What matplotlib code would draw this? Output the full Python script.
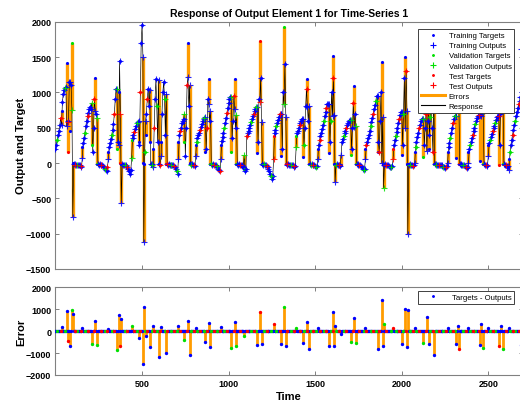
import matplotlib
matplotlib.use('Agg')
import matplotlib.pyplot as plt
from matplotlib.lines import Line2D
import numpy as np

plt.rcParams['font.family'] = ['Liberation Sans', 'DejaVu Sans']

# Time-series targets, one block per cycle (sample spacing 5 time steps)
block_start = [0, 155, 305, 440, 510, 555, 600, 710, 810, 955, 1105, 1260, 1390,
               1515, 1655, 1790, 1950, 2075, 2265, 2385, 2500, 2620]
block_values = [
    [200, 260, 330, 390, 460, 540, 640, 740, 860, 980, 1040, 1060, 1080, 1420, 150, 600, 1150, 450, 1100, 1700, 0,
     -20, -25, -20, -25, -30, -30, -25, -30, -40, -60],
    [220, 290, 360, 430, 520, 600, 660, 710, 760, 790, 760, 250, 150, 500, 900, 1210, 700, -10,
     -20, -25, -20, -25, -30, -30, -40, -60, -80, -100, -110, -60],
    [150, 220, 280, 340, 400, 470, 550, 700, 900, 1050, 200, 300, 1000, 1450, 0,
     -20, -20, -25, -25, -30, -30, -40, -60, -90, -120, -150, -100],
    [320, 360, 400, 440, 480, 520, 560, 580, 300, 250, 1000, 1700, 1960, 0],
    [-20, 150, 400, 700, 900, 1050, 800, 300, -20],
    [-30, -20, 200, 500, 900, 1190, 800, 300, -20],
    [-20, -30, 300, 700, 1000, 1150, 900, 400, -20,
     -20, -25, -20, -25, -30, -30, -25, -30, -40, -50, -80, -120, -150],
    [300, 390, 450, 500, 560, 600, 620, 300, 100, 500, 1100, 1700, 800, 0,
     -20, -25, -20, -30, -30, -40],
    [250, 300, 350, 390, 430, 470, 510, 550, 590, 620, 640, 150, 200, 500, 900, 1190, 600, -10,
     -20, -25, -20, -25, -30, -30, -40, -60, -80, -100, -110],
    [250, 310, 370, 430, 500, 570, 640, 710, 780, 850, 900, 930, 150, 350, 600, 950, 1190, 500, -10,
     -20, -25, -20, -25, -30, -30, -40, -60, -90, -110, -80],
    [380, 420, 460, 500, 540, 580, 620, 660, 700, 740, 770, 790, 140, 300, 900, 1730, 1200, -10,
     -20, -25, -20, -30, -30, -40, -60, -90, -120, -150, -190, -220, -180],
    [380, 420, 470, 520, 570, 610, 650, 690, 700, 100, 200, 1000, 1920, 1400, -10,
     -20, -25, -20, -25, -30, -30, -25, -30, -40, -50, -40],
    [380, 420, 460, 500, 540, 570, 600, 620, 80, 250, 500, 800, 1050, 1190, 600, -10,
     -20, -25, -20, -25, -30, -30, -40, -50, -40],
    [200, 260, 320, 380, 430, 480, 540, 600, 660, 720, 780, 830, 840, 140, 300, 600, 1000, 1520, 1200, -10,
     -20, -25, -20, -25, -30, -30, -40, -30],
    [300, 340, 380, 420, 460, 500, 540, 570, 600, 610, 110, 200, 500, 850, 1095, 700, -10,
     -20, -25, -20, -25, -30, -40, -60, -80, -100, -80],
    [200, 250, 300, 350, 400, 460, 520, 580, 640, 700, 760, 820, 880, 950, 150, 300, 150, 600, 1000, 1425, -10,
     -20, -25, -20, -25, -30, -30, -40, -50, -60, -60, -40],
    [200, 260, 320, 380, 440, 500, 560, 620, 680, 720, 120, 250, 700, 1200, 1500, 1300, -10,
     -20, -25, -20, -25, -30, -30, -40, -30],
    [150, 230, 300, 370, 430, 490, 540, 590, 620, 630, 90, 250, 500, 700, 800, 600, 200, 400, 650, 750, 500, 150, -10,
     -20, -25, -20, -25, -30, -30, -25, -30, -30, -40, -50, -60, -70, -60, -40],
    [150, 220, 290, 360, 430, 500, 560, 620, 660, 670, 70, 800, 1000, -10,
     -20, -25, -20, -25, -30, -30, -40, -60, -70, -50],
    [150, 200, 250, 300, 350, 400, 450, 500, 550, 600, 640, 670, 680, 30, 700, 1000, 800, -10,
     -20, -25, -30, -40, -30],
    [250, 290, 330, 370, 410, 450, 490, 530, 570, 610, 650, 670, -30, 250, 700, 1100, 800, -10,
     -20, -25, -30, -40, -60, -40],
    [50, 150, 250, 330, 400, 470, 540, 600, 660, 720, 780, 830, 880, 930, 970, 1000],
]

# Larger errors (targets - outputs); everywhere else the response follows the target
err_time = [35, 65, 70, 85, 95, 100, 155, 210, 230, 240, 305, 355, 365, 375, 380,
            440, 480, 505, 510, 520, 545, 565, 595, 610, 640,
            710, 745, 765, 775, 810, 865, 885, 895, 955, 1015, 1035, 1045,
            1090, 1165, 1180, 1190, 1260, 1305, 1320, 1330, 1390, 1430, 1455, 1465,
            1515, 1580, 1600, 1610, 1615, 1650, 1705, 1725, 1735,
            1790, 1860, 1885, 1890, 1895, 1950, 2000, 2020, 2030, 2035,
            2075, 2125, 2145, 2155, 2185, 2265, 2315, 2325, 2330,
            2385, 2450, 2460, 2470, 2500, 2560, 2575, 2585, 2620, 2690]
err_value = [200, 900, -430, -700, 950, 760, 150, -600, 480, -650, 100, -850, 750, -690, 550,
             250, -300, -1500, 1100, -200, -730, 250, -1190, 200, -1000,
             250, -400, 480, -1100, 150, -500, 360, -740, 200, -780, 430, -690,
             -200, -650, 860, -585, 330, -600, 1090, -660, 150, -540, 400, -810,
             150, -700, 860, -690, 250, -150, -500, 585, -540,
             150, -800, 1420, -660, 330, 150, -600, 1010, -740, 985,
             150, -540, 630, -600, -1070, 150, -600, 250, -810,
             150, -650, 330, -750, 150, -700, 250, -810, 150, -650]

# data division: T = training, V = validation, E = test
split_pattern = "TTVTTTETTTTVTTETTTTVTTE"

x_ticks = [500, 1000, 1500, 2000, 2500]
y_ticks_top = [-1500, -1000, -500, 0, 500, 1000, 1500, 2000]
y_ticks_err = [-2000, -1000, 0, 1000, 2000]

# ---- assemble series
t = np.concatenate([s + 5 * np.arange(len(v)) for s, v in zip(block_start, block_values)])
target = np.concatenate([np.array(v, dtype=float) for v in block_values])
error = np.zeros_like(target)
for et, ev in zip(err_time, err_value):
    error[np.argmin(np.abs(t - et))] = ev
output = target - error
labels = np.array([split_pattern[i % len(split_pattern)] for i in range(len(t))])

colors = {'T': '#0000ff', 'V': '#00e000', 'E': '#ff0000'}
orange = '#ff9c00'
spine_col = '#808080'

fig = plt.figure(figsize=(5.2, 4.02), dpi=100)
fig.patch.set_facecolor('white')
ax = fig.add_axes([0.1067, 0.3284, 0.899, 0.6151])
ax2 = fig.add_axes([0.1067, 0.0647, 0.899, 0.2182])

# Top: response
ax.vlines(t, target, output, colors=orange, linewidth=2.4, zorder=1)
ax.plot(t, output, color='black', linewidth=0.45, zorder=2)
for key in ['T', 'V', 'E']:
    m = labels == key
    ax.plot(t[m], target[m], '.', color=colors[key], markersize=2.5, zorder=3)
    ax.plot(t[m], output[m], '+', color=colors[key], markersize=4.8, markeredgewidth=0.8,
            alpha=0.85, zorder=4)

# Bottom: errors
ax2.vlines(t, 0, error, colors=orange, linewidth=2.0, zorder=1)
for key in ['T', 'V', 'E']:
    m = labels == key
    ax2.plot(t[m], error[m], '.', color=colors[key], markersize=2.8, zorder=3)

for a in (ax, ax2):
    a.set_xlim(0, 2700)
    a.set_xticks(x_ticks)
    for s in a.spines.values():
        s.set_color(spine_col)
        s.set_linewidth(0.8)
    a.tick_params(direction='in', length=3, width=0.7, color=spine_col, top=True, right=True,
                  labelsize=6.5, pad=3)
    for lbl in a.get_xticklabels() + a.get_yticklabels():
        lbl.set_fontweight('bold')

ax.set_ylim(-1500, 2000)
ax.set_yticks(y_ticks_top)
ax.tick_params(labelbottom=False)
ax2.set_ylim(-2000, 2000)
ax2.set_yticks(y_ticks_err)

ax.set_title('Response of Output Element 1 for Time-Series 1', fontsize=7.5, fontweight='bold', pad=4)
ax.set_ylabel('Output and Target', fontsize=8, fontweight='bold', labelpad=0)
ax2.set_ylabel('Error', fontsize=8, fontweight='bold', labelpad=0)
ax2.set_xlabel('Time', fontsize=8, fontweight='bold', labelpad=2)


def marker_handle(key, marker, size):
    return Line2D([], [], linestyle='none', marker=marker, markersize=size, markeredgewidth=0.8,
                  markerfacecolor=colors[key], markeredgecolor=colors[key])


handles = [
    marker_handle('T', '.', 2.5), marker_handle('T', '+', 5),
    marker_handle('V', '.', 2.5), marker_handle('V', '+', 5),
    marker_handle('E', '.', 2.5), marker_handle('E', '+', 5),
    Line2D([], [], color=orange, linewidth=2.2),
    Line2D([], [], color='black', linewidth=0.8),
]
names = ['Training Targets', 'Training Outputs', 'Validation Targets', 'Validation Outputs',
         'Test Targets', 'Test Outputs', 'Errors', 'Response']
leg = ax.legend(handles, names, loc='upper left', bbox_to_anchor=(0.775, 0.97),
                fontsize=5.6, frameon=True, fancybox=False, framealpha=1,
                edgecolor='#404040', borderpad=0.35, labelspacing=0.34,
                handlelength=3.2, handletextpad=0.4, borderaxespad=0)
leg.get_frame().set_linewidth(0.7)
leg.set_zorder(10)

leg2 = ax2.legend([marker_handle('T', '.', 2.5)],
                  ['Targets - Outputs'], loc='upper left', bbox_to_anchor=(0.775, 0.958),
                  fontsize=5.6, frameon=True, fancybox=False, framealpha=1,
                  edgecolor='#404040', borderpad=0.35, handlelength=3.2,
                  handletextpad=0.8, borderaxespad=0)
leg2.get_frame().set_linewidth(0.7)
leg2.set_zorder(10)

fig.savefig('out.png', dpi=100)
